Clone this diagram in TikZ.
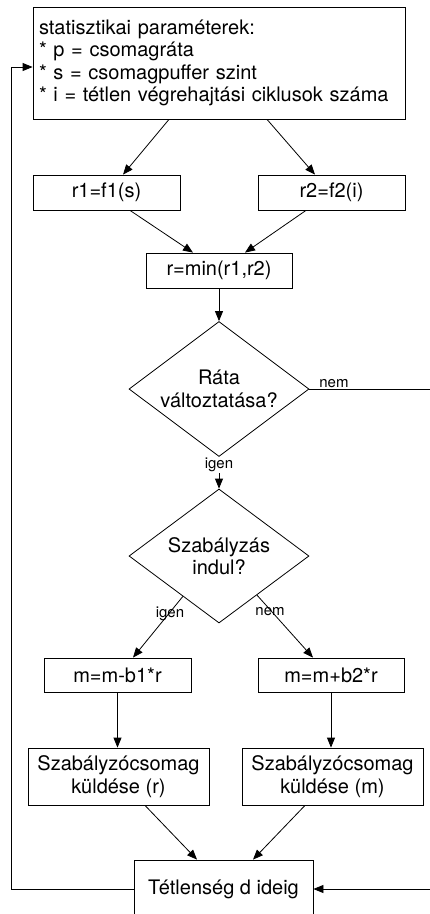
\documentclass[tikz,border=0pt]{standalone}
\usepackage{fontspec}
\setmainfont{TeX Gyre Heros}
\usetikzlibrary{shapes.geometric,arrows.meta,calc}

\begin{document}
\begin{tikzpicture}[x=1pt,y=-1pt,
    every node/.style={font=\fontsize{20}{22.3}\selectfont},
    box/.style={draw, line width=0.8pt, inner sep=0pt, align=center},
    decision/.style={draw, diamond, aspect=1.33, line width=0.8pt, inner sep=0pt, align=center,
        minimum width=180pt, minimum height=135pt},
    lbl/.style={font=\fontsize{15}{17}\selectfont, inner sep=1pt},
    flow/.style={-{Triangle[length=10pt,width=8pt]}, line width=0.8pt}]
            \useasboundingbox (0,0) rectangle (430,914);
            % boxes
            \node[box, align=left, text width=360pt, inner xsep=6pt, minimum height=112pt] (stats) at (219,63)
                {statisztikai paraméterek:\\{*} p = csomagráta\\{*} s = csomagpuffer szint\\{*} i = tétlen végrehajtási ciklusok száma};
            \node[box, minimum width=147pt, minimum height=35pt] (rone) at (106.5,192.5) {r1=f1(s)};
            \node[box, minimum width=147pt, minimum height=35pt] (rtwo) at (331.5,192.5) {r2=f2(i)};
            \node[box, minimum width=146pt, minimum height=35pt] (rmin) at (219,270.5) {r=min(r1,r2)};
            \node[decision] (rate) at (219,389) {Ráta\\változtatása?};
            \node[decision, minimum height=134pt] (start) at (219,556) {Szabályzás\\indul?};
            \node[box, minimum width=147pt, minimum height=34pt] (mminus) at (117.5,675) {m=m-b1*r};
            \node[box, minimum width=146pt, minimum height=34pt] (mplus) at (331,675) {m=m+b2*r};
            \node[box, minimum width=181pt, minimum height=57pt] (sendr) at (118.5,776.5) {Szabályzócsomag\\küldése (r)};
            \node[box, minimum width=181pt, minimum height=57pt] (sendm) at (332.5,776.5) {Szabályzócsomag\\küldése (m)};
            \node[box, minimum width=179pt, minimum height=58pt] (idle) at (223.5,889) {Tétlenség d ideig};
            \coordinate (rightUp) at (432,389);
            \coordinate (rightDown) at (432,889);
            \coordinate (leftDown) at (11,889);
            \coordinate (leftUp) at (11,67);
            % arrows
            \draw[flow] ([xshift=-50pt]stats.south) -- ([xshift=16.5pt]rone.north);
            \draw[flow] ([xshift=48pt]stats.south) -- ([xshift=-16.5pt]rtwo.north);
            \draw[flow] ([xshift=23.5pt]rone.south) -- ([xshift=-26pt]rmin.north);
            \draw[flow] ([xshift=-25.5pt]rtwo.south) -- ([xshift=26pt]rmin.north);
            \draw[flow] (rmin.south) -- (rate.north);
            \draw[flow] (rate.south) -- node[lbl, fill=white, pos=0.25] (yesA) {igen} (start.north);
            \draw[flow] ($(start.west)!0.6!(start.south)$) -- ([xshift=15.5pt]mminus.north);
            \draw[flow] ($(start.south)!0.42!(start.east)$) -- ([xshift=-18pt]mplus.north);
            \node[lbl] (yesB) at (170,614) {igen};
            \node[lbl] (noB) at (270,612) {nem};
            \draw[flow] (mminus.south) -- (sendr.north -| mminus.south);
            \draw[flow] (mplus.south) -- (sendm.north -| mplus.south);
            \draw[flow] ([xshift=26.5pt]sendr.south) -- ([xshift=-26.5pt]idle.north);
            \draw[flow] ([xshift=-27.5pt]sendm.south) -- ([xshift=29.5pt]idle.north);
            \draw[flow] (rate.east) -- node[lbl, pos=0.2, above] (noA) {nem} (rightUp) -- (rightDown) -- (idle.east);
            \draw[flow] (idle.west) -- (leftDown) -- (leftUp) -- (leftUp -| stats.west);
        \end{tikzpicture}
\end{document}
